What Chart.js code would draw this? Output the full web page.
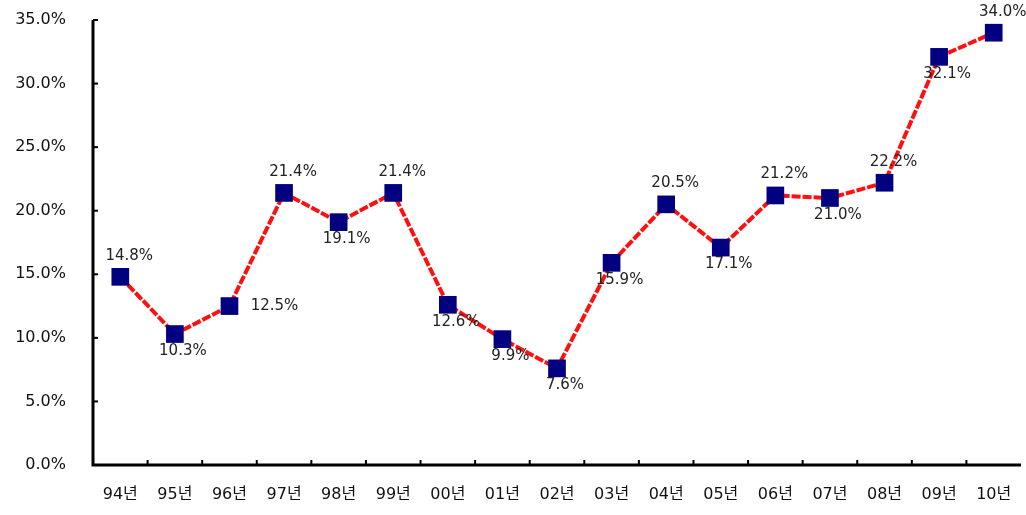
<!DOCTYPE html>
<html><head><meta charset="utf-8">
<script src="https://cdn.jsdelivr.net/npm/chart.js@4"></script>
<style>html,body{margin:0;padding:0;background:#fff;overflow:hidden}#wrap{width:1026px;height:515px}canvas{display:block}</style>
</head><body><div id="wrap"><canvas id="c" width="1026" height="515"></canvas></div>
<script>
const categories = ['94년','95년','96년','97년','98년','99년','00년','01년','02년','03년','04년','05년','06년','07년','08년','09년','10년'];
const rates = [14.8,10.3,12.5,21.4,19.1,21.4,12.6,9.9,7.6,15.9,20.5,17.1,21.2,21.0,22.2,32.1,34.0];
const labelPlacement = ['above','below','right','above','below','above','below','below','below','below','above','below','above','below','above','below','above'];
const yTicks = [0,5,10,15,20,25,30,35];

const FONT = "'DejaVu Sans', 'Noto Sans CJK KR', sans-serif";
const XFONT = "'DejaVu Sans', 'Noto Sans CJK KR', sans-serif";

const labelPlugin = {
  id: 'pointLabels',
  afterDatasetsDraw(chart) {
    const ctx = chart.ctx;
    const meta = chart.getDatasetMeta(0);
    ctx.save();
    ctx.font = '15px ' + FONT;
    ctx.fillStyle = '#222';
    ctx.textAlign = 'center';
    ctx.textBaseline = 'middle';
    meta.data.forEach((pt, i) => {
      const t = rates[i].toFixed(1) + '%';
      let dx = 9, dy = -21;
      if (labelPlacement[i] === 'below') { dx = 8; dy = 17; }
      if (labelPlacement[i] === 'right') { dx = 45; dy = 0; }
      ctx.fillText(t, pt.x + dx, pt.y + dy);
    });
    ctx.restore();
  }
};

const tickPlugin = {
  id: 'innerTicks',
  afterDraw(chart) {
    const ctx = chart.ctx;
    const xs = chart.scales.x, ys = chart.scales.y;
    const a = chart.chartArea;
    ctx.save();
    ctx.strokeStyle = '#000';
    ctx.lineWidth = 3;
    ctx.beginPath();
    ctx.moveTo(a.left, a.top);
    ctx.lineTo(a.left, a.bottom);
    ctx.lineTo(a.right, a.bottom);
    ctx.stroke();
    ctx.lineWidth = 2;
    yTicks.forEach(v => {
      const y = ys.getPixelForValue(v);
      ctx.beginPath(); ctx.moveTo(a.left, y); ctx.lineTo(a.left + 5, y); ctx.stroke();
    });
    for (let i = 1; i < categories.length; i++) {
      const x = (xs.getPixelForValue(i - 1) + xs.getPixelForValue(i)) / 2;
      ctx.beginPath(); ctx.moveTo(x, a.bottom); ctx.lineTo(x, a.bottom - 5); ctx.stroke();
    }
    ctx.restore();
  }
};

new Chart(document.getElementById('c'), {
  type: 'line',
  data: {
    labels: categories,
    datasets: [{
      data: rates,
      borderColor: '#ff1010',
      borderWidth: 4,
      borderDash: [9, 2],
      pointStyle: 'rect',
      pointRadius: 12.5,
      pointHoverRadius: 12.5,
      pointBackgroundColor: '#000080',
      pointBorderColor: '#000080',
      pointBorderWidth: 0,
      tension: 0,
      clip: false
    }]
  },
  options: {
    responsive: false,
    animation: false,
    events: [],
    layout: { autoPadding: false, padding: { top: 20, right: 5, left: 0, bottom: 0 } },
    plugins: { legend: { display: false }, tooltip: { enabled: false } },
    scales: {
      x: {
        offset: true,
        grid: { display: false, drawTicks: false },
        border: { display: false },
        ticks: { color: '#111', font: { family: XFONT, size: 16 }, padding: 20, maxRotation: 0, autoSkip: false },
        afterFit(s) { s.height = 50; s.paddingLeft = 0; s.paddingRight = 0; }
      },
      y: {
        min: 0, max: 35,
        grid: { display: false, drawTicks: false },
        border: { display: false },
        ticks: {
          stepSize: 5,
          color: '#111',
          font: { family: FONT, size: 16 },
          padding: 27,
          callback: v => v.toFixed(1) + '%'
        },
        afterFit(s) { s.width = 93; s.paddingTop = 0; s.paddingBottom = 0; }
      }
    }
  },
  plugins: [labelPlugin, tickPlugin]
});
</script></body></html>
